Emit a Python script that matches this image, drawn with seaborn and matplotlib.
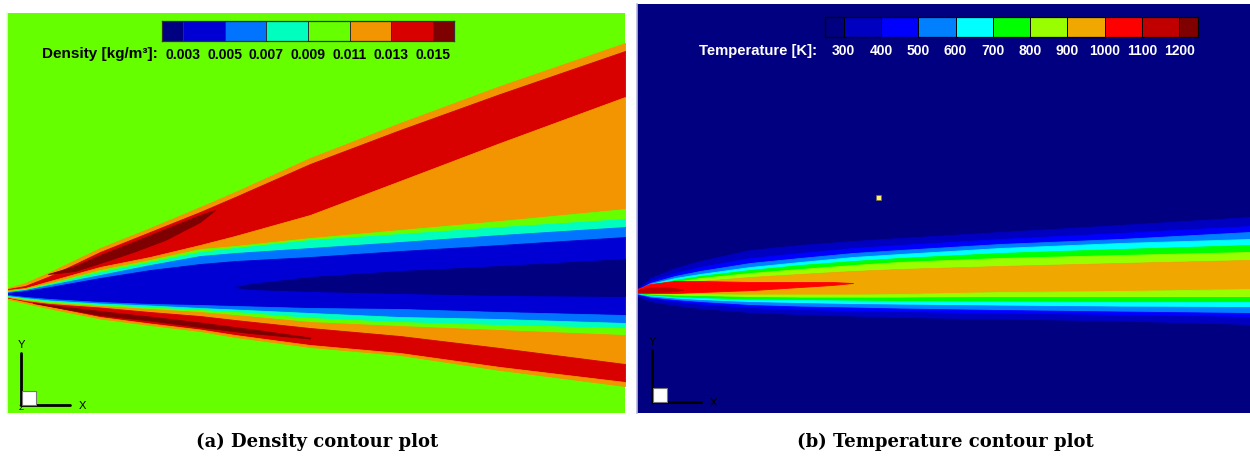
import numpy as np
import matplotlib
matplotlib.use('Agg')
import matplotlib.pyplot as plt
from matplotlib.colors import ListedColormap
from matplotlib.patches import Rectangle
import seaborn as sns

sns.set_theme(style='white')
plt.rcParams['font.family'] = ['Liberation Sans', 'DejaVu Sans']
plt.rcParams['text.color'] = 'black'

W, H = 1250, 457

# ---------------- (a) density field, band edges (pixel units)
dens_labels = ['0.003', '0.005', '0.007', '0.009', '0.011', '0.013', '0.015']
dens_colors = ['#000080', '#0000D5', '#0073FF', '#00FFBF', '#66FF00', '#F29500', '#D90000', '#7F0000']

dens_x = [8, 25, 50, 100, 150, 200, 235, 310, 400, 500, 625]
d_outer_top = [288, 283, 272, 248, 228, 207, 192, 158, 123, 86, 43]
d_red_top = [289, 286, 276, 252, 232, 212, 197, 164, 130, 94, 51]
d_red_bot = [290, 288, 281, 267, 257, 245, 236, 215, 181, 143, 97]
d_org_bot = [291, 289, 283, 270, 260, 249, 246, 238, 230, 221, 209]
d_grn_bot = [291.5, 289.5, 284, 272, 262, 252, 248, 240, 234, 227, 219]
d_cyn_bot = [292, 290, 285, 275, 265, 256, 253, 248, 242, 235, 227]
d_lbl_bot = [293, 291, 287, 278, 270, 264, 261, 257, 251, 245, 237]
d_blu_bot = [295, 297, 299, 302, 304, 305, 306, 308, 309, 312, 315]
d_lbl_low = [296, 298, 300.5, 303.5, 305.5, 308, 309.5, 313, 317, 319, 323]
d_cyn_low = [296.5, 299, 301.5, 305, 307.5, 310, 312, 318, 322, 325, 328]
d_grn_low = [297, 300, 303, 306, 309, 312, 315, 322, 326, 330, 335]
d_org_low = [298, 301, 304, 307.5, 312, 316, 320, 328, 336, 348, 364]
d_red_low = [298.5, 302, 307, 317, 323.5, 329.5, 335, 345, 353, 367, 382]
d_outer_low = [299, 303, 308.5, 318.5, 325, 331, 337, 347, 355, 370, 386]
dens_bounds = [d_outer_top, d_red_top, d_red_bot, d_org_bot, d_grn_bot, d_cyn_bot, d_lbl_bot,
               d_blu_bot, d_lbl_low, d_cyn_low, d_grn_low, d_org_low, d_red_low, d_outer_low]
dens_fill = [5, 6, 5, 4, 3, 2, 1, 2, 3, 4, 5, 6, 5]

# dark red streaks and low-density core
streak_up_x = [48, 75, 100, 133, 165, 200, 215]
streak_up_top = [274, 266, 255, 242, 229, 215, 210]
streak_up_bot = [274, 271, 263, 252, 240, 222, 210]
streak_lo_x = [33, 100, 150, 200, 250, 310]
streak_lo_top = [303, 311, 316.5, 322.5, 329, 337.5]
streak_lo_bot = [303, 315, 320.5, 327, 333, 338.5]
core_x = [235, 250, 310, 400, 500, 625]
core_top = [287, 284, 277, 271, 266, 259]
core_bot = [287, 289, 291, 293, 295, 296]

# ---------------- (b) temperature field
temp_labels = ['300', '400', '500', '600', '700', '800', '900', '1000', '1100', '1200']
temp_colors = ['#000080', '#0000C0', '#0000FF', '#0080FF', '#00FFFF', '#00FF00', '#99FF00',
               '#F0A800', '#FF0000', '#C00000', '#800000']

temp_x = [637, 650, 675, 700, 750, 800, 853, 900, 1000, 1120, 1250]
t_outer_top = [289, 278, 268, 261, 250, 245, 241, 238, 232, 225, 217]
t_dbl_top = [289.5, 281, 273, 267, 258, 253, 248, 245, 239, 233, 226]
t_blu_top = [290, 283, 276, 271, 263, 258, 253, 250, 244, 239, 232]
t_azu_top = [290, 284, 278, 274, 267, 262, 257, 254, 248, 243, 239]
t_cyn_top = [290.5, 285, 280, 276, 270, 265, 261, 258, 253, 249, 245]
t_grn_top = [290.5, 286, 282, 278, 273, 269, 265, 262, 258, 255, 252]
t_ygr_top = [291, 287, 284, 281, 277, 274, 271, 269, 266, 263, 260]
t_org_bot = [292.5, 293.5, 294, 294, 294.5, 294.5, 294.5, 294, 292, 291, 289]
t_ygr_bot = [293, 294.5, 295.5, 296, 297, 297.5, 297.5, 297.5, 297, 297, 297]
t_grn_bot = [293.5, 295.5, 297, 298, 299.5, 300, 300.5, 301, 301.5, 302, 302]
t_cyn_bot = [294, 296.5, 298.5, 300, 302, 303, 304, 304.5, 305.5, 306.5, 307]
t_azu_bot = [294.5, 297.5, 300, 302, 305, 306.5, 307.5, 308.5, 310, 311.5, 313]
t_blu_bot = [295, 298.5, 302, 304.5, 308, 310, 311, 312, 313.5, 315, 317]
t_outer_bot = [296, 301, 305, 308, 312, 314, 315.5, 317, 318.5, 320.5, 324]
temp_bounds = [t_outer_top, t_dbl_top, t_blu_top, t_azu_top, t_cyn_top, t_grn_top, t_ygr_top,
               t_org_bot, t_ygr_bot, t_grn_bot, t_cyn_bot, t_azu_bot, t_blu_bot, t_outer_bot]
temp_fill = [1, 2, 3, 4, 5, 6, 7, 6, 5, 4, 3, 2, 1]

hot_x = [637, 650, 675, 700, 753, 800, 832, 853]
hot_top = [289, 284, 281, 281, 282, 282, 282, 283]
hot_bot = [293, 293, 293, 292, 290, 287, 285, 283]
core_t_x = [637, 650, 670, 683]
core_t_top = [290, 287.5, 287.5, 289.5]
core_t_bot = [292, 292, 291.5, 290]


def fig_rect(x0, y0, x1, y1):
    return [x0 / W, 1 - y1 / H, (x1 - x0) / W, (y1 - y0) / H]


def band(ax, x, top, bot, color):
    ax.fill_between(x, top, bot, color=color, lw=0.6, edgecolor=color)


def panel(rect, xlim, ylim, bg, edge):
    ax = fig.add_axes(fig_rect(*rect))
    ax.set_xlim(*xlim)
    ax.set_ylim(*ylim)
    ax.set_facecolor(bg)
    ax.set_xticks([])
    ax.set_yticks([])
    for s in ax.spines.values():
        s.set_visible(False)
    ax.spines['left'].set_visible(True)
    ax.spines['left'].set_color(edge)
    ax.spines['left'].set_linewidth(1.2)
    return ax


def level_bar(rect, colors, labels, edge, txt):
    cax = fig.add_axes(fig_rect(*rect))
    n = len(colors)
    cells = [0] + [i for i in range(1, n - 1) for _ in (0, 1)] + [n - 1]
    sns.heatmap(np.array([cells]), cmap=ListedColormap(colors), vmin=-0.5, vmax=n - 0.5,
                cbar=False, ax=cax, xticklabels=False, yticklabels=False)
    for k in range(1, 2 * n - 2, 2):
        cax.axvline(k, color=edge, lw=0.7)
    for s in cax.spines.values():
        s.set_visible(True)
        s.set_color(edge)
        s.set_linewidth(0.9)
    cax.set_xticks(range(1, 2 * n - 2, 2))
    cax.set_xticklabels(labels)
    cax.tick_params(axis='x', length=0, pad=5, labelsize=10, labelcolor=txt, bottom=True)
    for t in cax.get_xticklabels():
        t.set_fontweight('bold')
    return cax


def triad(ax, x0, y0, color, txt):
    ax.plot([x0, x0], [y0, y0 - 52], color=color, lw=2)
    ax.plot([x0, x0 + 49], [y0, y0], color=color, lw=2)
    ax.add_patch(Rectangle((x0 + 1, y0 - 14), 14, 14, facecolor='white', edgecolor='#777777', lw=0.8, zorder=5))
    ax.text(x0, y0 - 60, 'Y', color=txt, fontsize=8, ha='center', va='center')
    ax.text(x0 + 61, y0 + 1, 'X', color=txt, fontsize=8, ha='center', va='center')
    ax.text(x0, y0 + 3, 'Z', color=txt, fontsize=6, ha='center', va='center')


fig = plt.figure(figsize=(W / 100, H / 100), dpi=100)

# (a) density
ax1 = panel((7, 13, 625, 413), (7, 625), (413, 13), dens_colors[4], '#e6ffd8')
for i, c in enumerate(dens_fill):
    band(ax1, dens_x, dens_bounds[i], dens_bounds[i + 1], dens_colors[c])
band(ax1, streak_up_x, streak_up_top, streak_up_bot, dens_colors[7])
band(ax1, streak_lo_x, streak_lo_top, streak_lo_bot, dens_colors[7])
band(ax1, core_x, core_top, core_bot, dens_colors[0])
triad(ax1, 21, 405, 'black', 'black')

level_bar((162, 21, 454, 41), dens_colors, dens_labels, '#303030', 'black')
fig.text(158 / W, 1 - 54 / H, 'Density [kg/m³]:', ha='right', va='center', fontsize=11,
         fontweight='bold', color='black')

# (b) temperature
ax2 = panel((637, 4, 1250, 413), (637, 1250), (413, 4), temp_colors[0], '#b8b8e0')
for i, c in enumerate(temp_fill):
    band(ax2, temp_x, temp_bounds[i], temp_bounds[i + 1], temp_colors[c])
band(ax2, hot_x, hot_top, hot_bot, temp_colors[8])
band(ax2, core_t_x, core_t_top, core_t_bot, temp_colors[9])
ax2.add_patch(Rectangle((875.5, 194.5), 5, 5, facecolor='#FFF070', edgecolor='#707040', lw=0.5))
triad(ax2, 652, 402, 'black', 'black')

level_bar((825, 17, 1198, 37), temp_colors, temp_labels, 'black', 'white')
fig.text(817 / W, 1 - 51 / H, 'Temperature [K]:', ha='right', va='center', fontsize=10.7,
         fontweight='bold', color='white')

# captions
fig.text(317 / W, 1 - 442 / H, '(a) Density contour plot', ha='center', va='center',
         family='DejaVu Serif', fontweight='bold', fontsize=13, color='black')
fig.text(945 / W, 1 - 442 / H, '(b) Temperature contour plot', ha='center', va='center',
         family='DejaVu Serif', fontweight='bold', fontsize=13, color='black')

fig.savefig('out.png', dpi=100, facecolor='white')
